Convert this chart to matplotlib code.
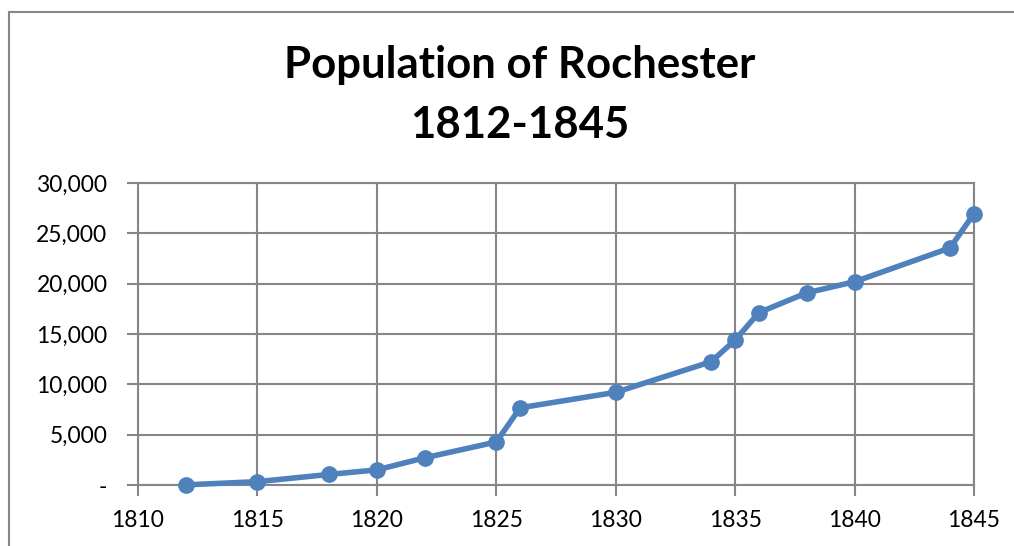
import matplotlib.pyplot as plt
from matplotlib.patches import Rectangle
from matplotlib.ticker import FuncFormatter

# --- DATA ---
years = [1812, 1815, 1818, 1820, 1822, 1825, 1826, 1830, 1834, 1835, 1836, 1838, 1840, 1844, 1845]
population = [15, 331, 1049, 1502, 2700, 4274, 7669, 9207, 12252, 14404, 17131, 19091, 20191, 23553, 26965]

x_ticks = [1810, 1815, 1820, 1825, 1830, 1835, 1840, 1845]
y_ticks = [0, 5000, 10000, 15000, 20000, 25000, 30000]

GRID = '#868686'
BLUE = '#4F81BD'

plt.rcParams['font.family'] = ['Lato', 'DejaVu Sans']

fig = plt.figure(figsize=(10.14, 5.46), dpi=100)

# outer chart frame (cropped on right and bottom)
fig.patches.append(Rectangle((9 / 1014, -0.1), 1.2, 1.1 - 12 / 546, transform=fig.transFigure,
                             fill=False, edgecolor=GRID, linewidth=1.5))

ax = fig.add_axes([138 / 1014, 1 - 485 / 546, 836 / 1014, 302 / 546])

ax.plot(years, population, color=BLUE, linewidth=4, marker='o', markersize=11,
        zorder=3, clip_on=False)

ax.set_xlim(1810, 1845)
ax.set_ylim(0, 30000)
ax.set_xticks(x_ticks)
ax.set_yticks(y_ticks)
ax.yaxis.set_major_formatter(FuncFormatter(lambda v, p: '-' if v == 0 else f'{int(v):,}'))

ax.grid(True, color=GRID, linewidth=1.5)
ax.set_axisbelow(True)
for s in ax.spines.values():
    s.set_color(GRID)
    s.set_linewidth(1.5)

ax.tick_params(axis='both', colors=GRID, length=8, width=1.5, labelcolor='black', labelsize=16.5)
ax.tick_params(axis='y', pad=14)
ax.tick_params(axis='x', pad=10)

fig.text(520 / 1014, 1 - 65 / 546, 'Population of Rochester', ha='center', va='center',
         fontsize=31.5, fontweight='bold')
fig.text(520 / 1014, 1 - 125 / 546, '1812-1845', ha='center', va='center',
         fontsize=31.5, fontweight='bold')

fig.savefig('out.png', dpi=100)
